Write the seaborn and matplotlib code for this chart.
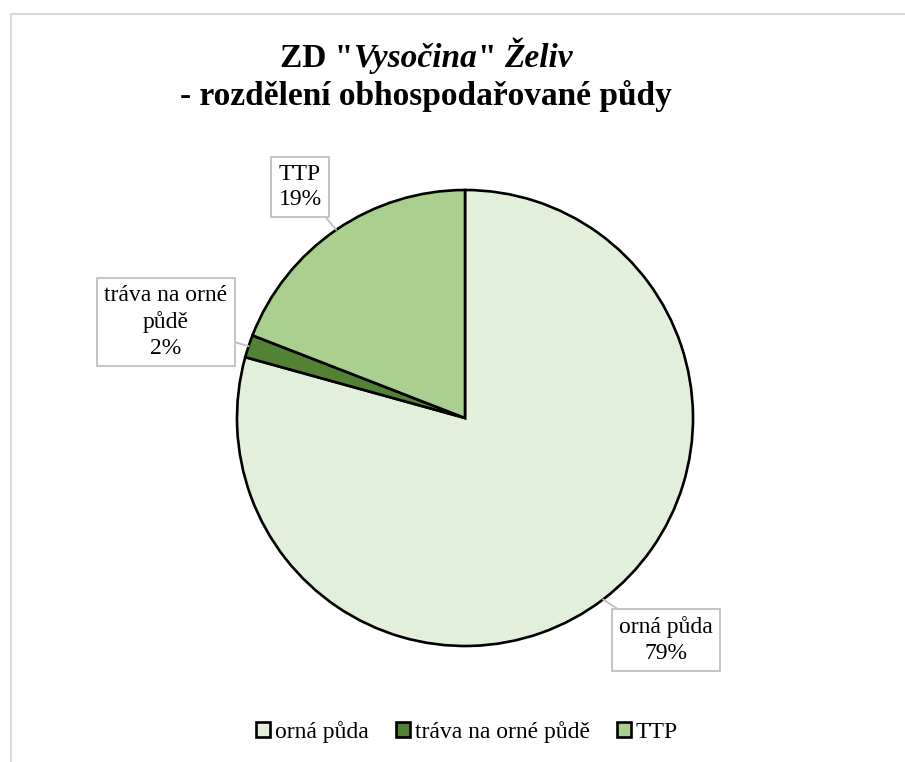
import numpy as np
import matplotlib
matplotlib.use('Agg')
import matplotlib.pyplot as plt
import seaborn as sns

# data
categories = ['orná půda', 'tráva na orné půdě', 'TTP']
label_names = ['orná půda', 'tráva na orné\npůdě', 'TTP']
shares = [79.3, 1.6, 19.1]
colors = ['#E2EFDA', '#548235', '#A9D08E']

sns.set_theme(style='white')
plt.rcParams['font.family'] = ['Liberation Serif', 'DejaVu Serif']
plt.rcParams['text.color'] = 'black'

fig = plt.figure(figsize=(9.05, 7.62), dpi=100)
W, H = 905, 762

# pie axes: centre (465, 418) px, radius 228 px
cx, cy, rad = 465, 418, 228
ax = fig.add_axes([(cx - rad) / W, (H - cy - rad) / H, 2 * rad / W, 2 * rad / H])
wedges, _ = ax.pie(shares, colors=colors, startangle=90, counterclock=False,
                   wedgeprops=dict(edgecolor='black', linewidth=1.9))
ax.set_xlim(-1, 1)
ax.set_ylim(-1, 1)
ax.set_aspect('equal')
ax.axis('off')

# label boxes (centre in px)
box_px = [(666, 640), (166, 322), (300, 187)]
for w, name, val, (bx, by) in zip(wedges, label_names, shares, box_px):
    ang = np.deg2rad((w.theta1 + w.theta2) / 2)
    anchor = (np.cos(ang), np.sin(ang))
    pos = ((bx - cx) / rad, (cy - by) / rad)
    ax.annotate(f'{name}\n{round(val)}%', xy=anchor, xytext=pos,
                ha='center', va='center', fontsize=17, linespacing=1.3,
                annotation_clip=False, color='black',
                bbox=dict(boxstyle='square,pad=0.3', fc='white', ec='#bfbfbf', lw=1.3),
                arrowprops=dict(arrowstyle='-', color='#bfbfbf', lw=1.3,
                                shrinkA=0, shrinkB=0))

# title, mixed upright / italic pieces
fig.canvas.draw()
r = fig.canvas.get_renderer()


def text_w(s, style='normal'):
    t = fig.text(0, 0, s, fontsize=24, fontweight='bold', fontstyle=style)
    w = t.get_window_extent(r).width
    t.remove()
    return w


space = text_w('a a') - text_w('aa')


def title_line(pieces, y_px, x_center=426):
    widths = [text_w(s, st) + g * space for s, st, g in pieces]
    x = x_center - sum(widths) / 2
    for (s, st, g), w in zip(pieces, widths):
        fig.text(x / W, 1 - y_px / H, s, fontsize=24, fontweight='bold',
                 fontstyle=st, va='baseline', ha='left', color='black')
        x += w


title_line([('ZD "', 'normal', 0), ('Vysočina', 'italic', 0),
            ('"', 'normal', 1), ('Želiv', 'italic', 0)], 67)
title_line([('- rozdělení obhospodařované půdy', 'normal', 0)], 105)

# legend
fig.legend(wedges, categories, loc='center', bbox_to_anchor=(467 / W, 1 - 732 / H),
           ncol=3, frameon=False, fontsize=17, handlelength=0.6, handleheight=0.6,
           handletextpad=0.2, columnspacing=1.15)

# chart border (top and left visible)
fig.add_artist(plt.Line2D([11 / W, 11 / W], [0, 1 - 14 / H], color='#d9d9d9', lw=1.5))
fig.add_artist(plt.Line2D([11 / W, 1], [1 - 14 / H, 1 - 14 / H], color='#d9d9d9', lw=1.5))

fig.savefig('out.png', dpi=100)
